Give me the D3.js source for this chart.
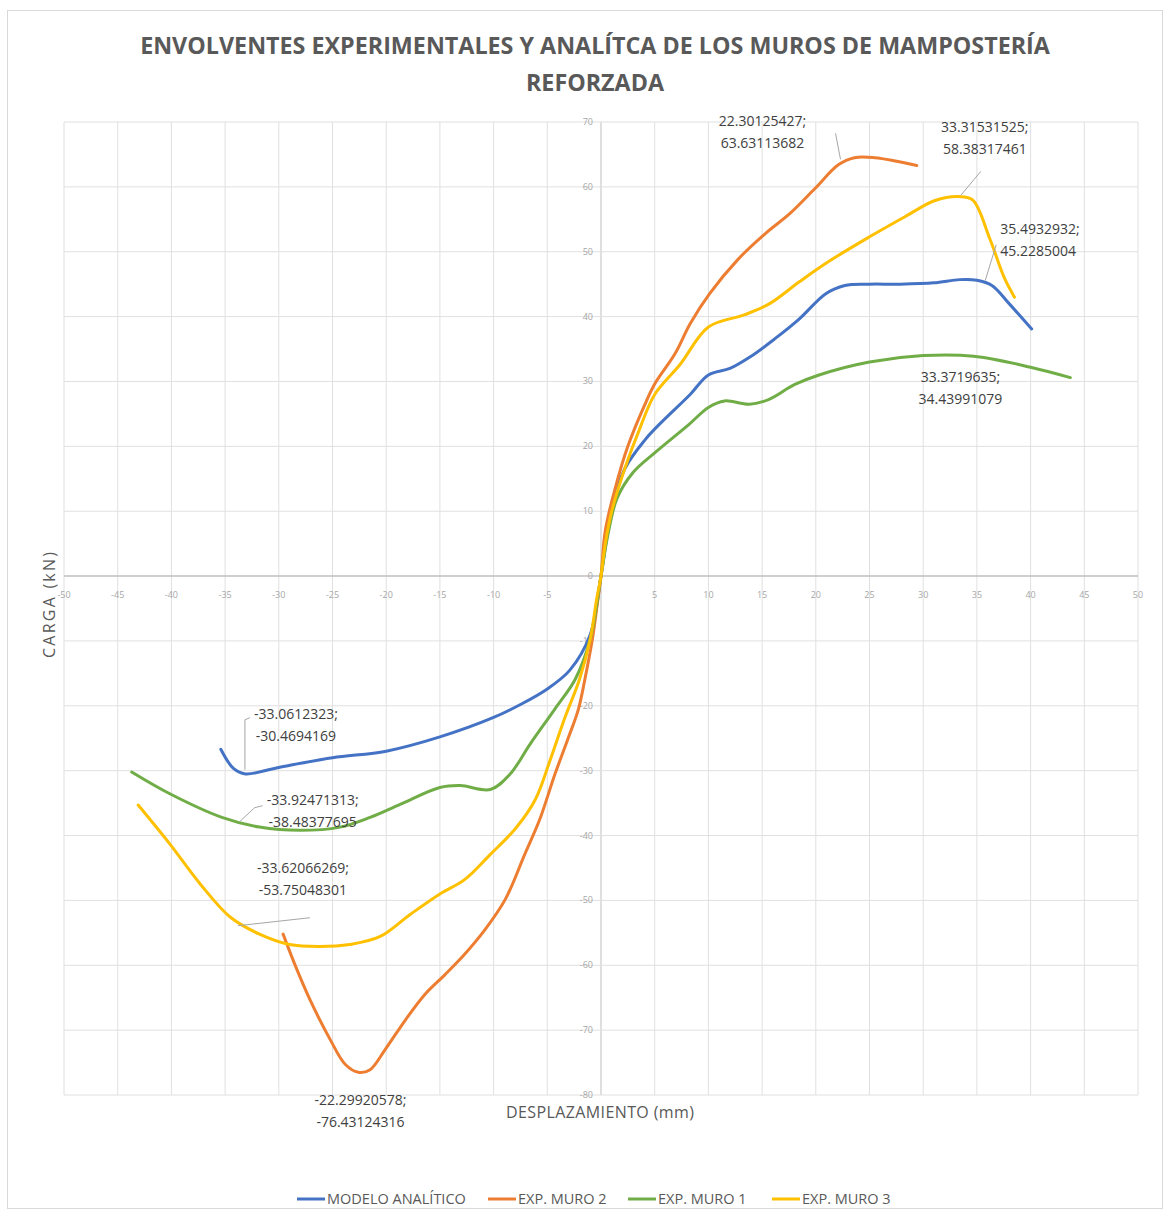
<!DOCTYPE html>
<html><head><meta charset="utf-8">
<script src="https://cdn.jsdelivr.net/npm/d3@7"></script>
<style>body{margin:0;background:#fff;font-family:"Open Sans",sans-serif}</style>
</head><body><svg id="c" width="1171" height="1218"></svg>
<script>
// ---- data ----
const seriesNames = ["MODELO ANALÍTICO", "EXP. MURO 2", "EXP. MURO 1", "EXP. MURO 3"];
const seriesColors = ["#4472C4", "#ED7D31", "#70AD47", "#FFC000"];
const titleLines = ["ENVOLVENTES EXPERIMENTALES Y ANALÍTCA DE LOS MUROS DE MAMPOSTERÍA", "REFORZADA"];
const xTicks = [-50,-45,-40,-35,-30,-25,-20,-15,-10,-5,0,5,10,15,20,25,30,35,40,45,50];
const yTicks = [-80,-70,-60,-50,-40,-30,-20,-10,0,10,20,30,40,50,60,70];

const modeloX = [-35.4,-34.2,-33.1,-30,-25,-20,-15,-10,-7.5,-5,-2.9,-1,0,1,2.2,4.1,5.5,8.3,10,12,13.9,16.2,18.5,20.9,22.7,25,27.8,31,33.4,35.0,36.4,38,40.1];
const modeloY = [-26.7,-29.7,-30.5,-29.5,-28,-27,-24.8,-21.8,-19.8,-17.4,-14.5,-9,0,10.3,16.5,21,23.5,28,31,32,33.8,36.6,39.7,43.5,44.8,45,45,45.2,45.7,45.6,44.8,42,38.1];

const muro2X = [-29.6,-28.5,-27.1,-25.2,-23.8,-22.6,-21.5,-20.1,-18.2,-16.4,-14.5,-12.7,-10.8,-8.9,-7.1,-5.7,-4.3,-3.1,-2.1,-1.5,-0.8,-0.4,0,0.4,1.3,2.5,4.1,5,6.9,8.3,10.1,12.8,15.3,17.6,19.9,22.1,23.6,25.5,27.4,29.4];
const muro2Y = [-55.2,-59.9,-65.3,-71.5,-75.3,-76.5,-76.1,-73,-68.4,-64.5,-61.4,-58.3,-54.5,-49.8,-42.9,-37.5,-30.6,-25.2,-20.5,-15.9,-9.7,-5,0,7,13.4,20,26.5,29.6,34.3,38.9,43.5,48.9,52.8,55.9,59.7,63.4,64.5,64.5,64,63.3];

const muro1X = [-43.7,-40.1,-35.3,-31.8,-28,-24.3,-21.5,-18.7,-15,-13.1,-10.3,-8.5,-6.6,-4.3,-2.4,-1,0,0.6,1.5,3,5,8.2,10,11.5,13.8,15.6,18,20.3,25,30,34.7,40,43.7];
const muro1Y = [-30.2,-33.6,-37.2,-38.7,-39.2,-38.7,-37.2,-35.2,-32.6,-32.3,-32.9,-30.6,-25.9,-20.5,-15.9,-9.7,0,6,12,16,19,23.4,26,27,26.5,27.2,29.5,31,33,34,33.9,32.2,30.6];

const muro3X = [-43.1,-42,-40.1,-37.3,-34.5,-31.8,-29,-26.2,-23.4,-20.6,-17.8,-15,-12.7,-10.3,-8,-6.1,-4.7,-3.4,-2,-1,-0.4,0,0.4,1,2.2,3.6,5,7.4,10,13.4,15.7,18.5,21.3,25,28.3,31.1,33.3,34.6,36.2,37.6,38.5];
const muro3Y = [-35.3,-37.5,-41.4,-47.5,-52.6,-55.2,-56.8,-57.1,-56.8,-55.6,-52.2,-49,-46.8,-42.9,-39,-34.4,-28.2,-22,-15.9,-9.7,-3.5,0,5,10,16.5,22.7,28,32.7,38.4,40.3,42,45.4,48.6,52.3,55.4,57.9,58.5,58.0,52,45.8,43];

const seriesX = [modeloX, muro2X, muro1X, muro3X];
const seriesY = [modeloY, muro2Y, muro1Y, muro3Y];

const labelX = [22.30125427, 33.31531525, 35.4932932, 33.3719635, -33.0612323, -33.92471313, -33.62066269, -22.29920578];
const labelY = [63.63113682, 58.38317461, 45.2285004, 34.43991079, -30.4694169, -38.48377695, -53.75048301, -76.43124316];
const labelText = [
  ["22.30125427;","63.63113682"], ["33.31531525;","58.38317461"], ["35.4932932;","45.2285004"],
  ["33.3719635;","34.43991079"], ["-33.0612323;","-30.4694169"], ["-33.92471313;","-38.48377695"],
  ["-33.62066269;","-53.75048301"], ["-22.29920578;","-76.43124316"]];

// ---- layout (pixel offsets of label text relative to its point) ----
const labelLayout = [
  {dx:-78, dy:-42, anchor:"middle", leader:[[0,-4],[-5,-30]]},
  {dx:26, dy:-70, anchor:"middle", leader:[[2,-2],[22,-26]]},
  {dx:18, dy:-54, anchor:"start", leader:[[3,-2],[14,-38]]},
  {dx:1, dy:24, anchor:"middle", leader:null},
  {dx:50, dy:-60, anchor:"middle", leader:[[-1,-4],[-1,-54],[4,-56]]},
  {dx:76, dy:-26, anchor:"middle", leader:[[3,-4],[18,-18],[26,-20]]},
  {dx:63, dy:-57, anchor:"middle", leader:[[-2,1],[70,-7]]},
  {dx:-1, dy:28, anchor:"middle", leader:null}
];

const svg = d3.select("#c");
svg.append("rect").attr("x",7.5).attr("y",10.5).attr("width",1155).attr("height",1198)
  .attr("fill","#fff").attr("stroke","#d9d9d9");

const x = d3.scaleLinear().domain([-50,50]).range([64,1138]);
const y = d3.scaleLinear().domain([-80,70]).range([1095,122]);

// gridlines
const g = svg.append("g");
g.selectAll(".vg").data(xTicks).join("line")
  .attr("x1",d=>x(d)).attr("x2",d=>x(d)).attr("y1",y(70)).attr("y2",y(-80))
  .attr("stroke",d=>d===0?"#bfbfbf":"#e0e0e0").attr("stroke-width",1);
g.selectAll(".hg").data(yTicks).join("line")
  .attr("y1",d=>y(d)).attr("y2",d=>y(d)).attr("x1",x(-50)).attr("x2",x(50))
  .attr("stroke",d=>d===0?"#bfbfbf":"#e0e0e0").attr("stroke-width",d=>d===0?1.5:1);

// tick labels
g.selectAll(".xt").data(xTicks.filter(d=>d!==0)).join("text")
  .attr("x",d=>x(d)).attr("y",y(0)+22).attr("text-anchor","middle")
  .attr("font-size",9).attr("fill","#a6a6a6").text(d=>d);
g.selectAll(".yt").data(yTicks).join("text")
  .attr("x",x(0)-8).attr("y",d=>y(d)+3).attr("text-anchor","end")
  .attr("font-size",9).attr("fill","#a6a6a6").text(d=>d);

// series
const line = d3.line().x(d=>x(d[0])).y(d=>y(d[1])).curve(d3.curveCatmullRom.alpha(0.5));
seriesNames.forEach((n,i)=>{
  const pts = seriesX[i].map((v,k)=>[v, seriesY[i][k]]);
  svg.append("path").datum(pts).attr("d",line).attr("fill","none")
    .attr("stroke",seriesColors[i]).attr("stroke-width",3).attr("stroke-linejoin","round").attr("stroke-linecap","round");
});

// data labels
labelX.forEach((lx,i)=>{
  const px = x(lx), py = y(labelY[i]), L = labelLayout[i];
  if (L.leader) {
    svg.append("path").attr("d", d3.line()(L.leader.map(p=>[px+p[0], py+p[1]])))
      .attr("fill","none").attr("stroke","#a6a6a6").attr("stroke-width",1);
  }
  labelText[i].forEach((t,k)=>{
    svg.append("text").attr("x",px+L.dx).attr("y",py+L.dy+5+k*22)
      .attr("text-anchor",L.anchor).attr("font-size",14).attr("fill","#404040").text(t);
  });
});

// title
const t1 = svg.append("text").attr("x",595).attr("y",54).attr("text-anchor","middle")
  .attr("font-weight","bold").attr("font-size",24).attr("fill","#595959").text(titleLines[0]);
const w1 = t1.node().getComputedTextLength();
const fs = 24*910/w1;
t1.attr("font-size",fs);
svg.append("text").attr("x",595).attr("y",91).attr("text-anchor","middle")
  .attr("font-weight","bold").attr("font-size",fs).attr("fill","#595959").text(titleLines[1]);

// axis titles
svg.append("text").attr("transform","translate(55,605) rotate(-90)").attr("text-anchor","middle")
  .attr("font-size",16).attr("textLength",106).attr("lengthAdjust","spacing")
  .attr("fill","#595959").text("CARGA (kN)");
svg.append("text").attr("x",600).attr("y",1118).attr("text-anchor","middle")
  .attr("font-size",16).attr("textLength",188).attr("lengthAdjust","spacing")
  .attr("fill","#595959").text("DESPLAZAMIENTO (mm)");

// legend
const legX = [297, 488, 628, 772];
seriesNames.forEach((n,i)=>{
  svg.append("line").attr("x1",legX[i]).attr("x2",legX[i]+28).attr("y1",1199).attr("y2",1199)
    .attr("stroke",seriesColors[i]).attr("stroke-width",3);
  svg.append("text").attr("x",legX[i]+30).attr("y",1204).attr("font-size",14.5)
    .attr("fill","#595959").text(n);
});
</script></body></html>
